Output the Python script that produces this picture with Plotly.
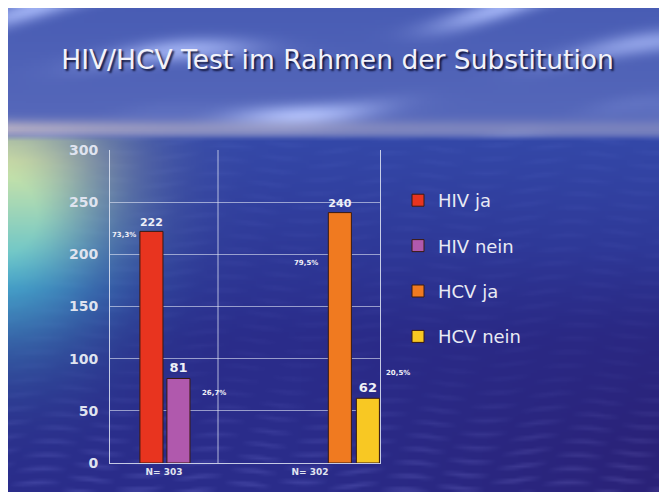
import base64, struct, zlib
import numpy as np
import plotly.graph_objects as go

# ---------------- data ----------------
categories = ["N= 303", "N= 302"]
group_totals = [303, 302]
series_names = ["HIV ja", "HIV nein", "HCV ja", "HCV nein"]
hiv_ja = [222, None]
hiv_nein = [81, None]
hcv_ja = [None, 240]
hcv_nein = [None, 62]
y_ticks = [0, 50, 100, 150, 200, 250, 300]

series_values = [hiv_ja, hiv_nein, hcv_ja, hcv_nein]

# ---------------- style ----------------
colors = ["#e8341f", "#b059ad", "#f07a20", "#f8c823"]
offsets = [-0.165, 0.02, 0.126, 0.318]
bar_w = 0.158
pct_style = [
    dict(xside="left", yshift=-4, xshift=-2),
    dict(xside="right", yshift=-15, xshift=10),
    dict(xside="left", yshift=-50, xshift=-8),
    dict(xside="right", yshift=25, xshift=5),
]

# the page body has an 8px margin, so the figure is drawn 8px in from the top-left
W_FIG, H_FIG = 659, 489
ML, MR, MT, MB = 102, 287, 142, 34
PW, PH = W_FIG - ML - MR, H_FIG - MT - MB


# ---------------- background image (decorative) ----------------
def make_bg():
    H, W = 180, 240
    v = np.linspace(8, 492, H)[:, None] * np.ones((1, W))
    u = np.ones((H, 1)) * np.linspace(8, 667, W)[None, :]

    def col(c):
        return np.array(c, dtype=float)[None, None, :]

    # sky
    t = np.clip(v / 120.0, 0, 1)[..., None]
    sky = col([72, 92, 180]) * (1 - t) + col([86, 104, 186]) * t
    ph = v + 0.16 * u
    streak = (0.5 + 0.5 * np.sin(ph / 11.0 + 1.2 * np.sin(u / 80.0))) ** 3
    patch = (0.5 + 0.5 * np.sin(u / 75.0 - v / 30.0 + 1.3)) * (0.6 + 0.4 * np.sin(u / 37.0 + v / 19.0))
    sky = sky + (85 * streak * np.clip(patch, 0, 1))[..., None] * np.array([1.0, 0.97, 0.72])[None, None, :]
    hz = np.exp(-((v - 128) / 9.0) ** 2) * (0.25 + 0.45 * np.exp(-u / 200.0))
    sky = sky * (1 - hz[..., None]) + col([215, 200, 200]) * hz[..., None]

    # ocean
    to = np.clip((v - 140) / 200.0, 0, 1)[..., None]
    ocean = col([52, 72, 168]) * (1 - to) + col([42, 44, 138]) * to
    rs = np.clip((u - 300) / 367.0, 0, 1)[..., None] * np.clip((v - 250) / 200.0, 0, 1)[..., None]
    ocean = ocean * (1 - rs) + col([42, 34, 120]) * rs
    wave = np.clip(np.sin(v / 2.2 + np.sin(u / 28.0) * 1.6) * np.sin(u / 17.0 + v / 40.0), 0, 1)
    wamp = 5 + 16 * np.clip((v - 380) / 110.0, 0, 1)
    ocean = ocean + (wamp * wave)[..., None]
    d2 = (u / 115.0) ** 2 + ((v - 215) / 125.0) ** 2
    g = np.clip(1.1 * np.exp(-d2), 0, 1)[..., None]
    tg = np.clip((v - 160) / 130.0, 0, 1)[..., None]
    gc = col([212, 230, 165]) * (1 - tg) + col([75, 188, 214]) * tg
    ocean = ocean * (1 - g) + gc * g

    m = np.clip((v - 134) / 6.0, 0, 1)[..., None]
    img = sky * (1 - m) + ocean * m
    img = np.clip(img, 0, 255).astype(np.uint8)

    raw = b"".join(b"\x00" + img[r].tobytes() for r in range(H))

    def chunk(tag, data):
        c = struct.pack(">I", len(data)) + tag + data
        return c + struct.pack(">I", zlib.crc32(tag + data) & 0xFFFFFFFF)

    png = b"\x89PNG\r\n\x1a\n" + chunk(b"IHDR", struct.pack(">IIBBBBB", W, H, 8, 2, 0, 0, 0)) \
        + chunk(b"IDAT", zlib.compress(raw, 9)) + chunk(b"IEND", b"")
    return "data:image/png;base64," + base64.b64encode(png).decode()


fig = go.Figure()
for name, vals, c, off in zip(series_names, series_values, colors, offsets):
    fig.add_trace(go.Bar(
        name=name, x=categories, y=vals, width=bar_w, offset=off,
        marker=dict(color=c, line=dict(color="#3a1a10", width=1)),
        text=[("" if v is None else str(v)) for v in vals],
        textposition="outside", cliponaxis=False,
        textfont=dict(family="DejaVu Sans", size=13, color="#eef0f8", weight="bold"),
        legendgroup=name,
    ))

for i, (vals, st) in enumerate(zip(series_values, pct_style)):
    for j, v in enumerate(vals):
        if v is None:
            continue
        pct = f"{v / group_totals[j] * 100:.1f}%".replace(".", ",")
        xedge = j + offsets[i] + (0 if st["xside"] == "left" else bar_w)
        fig.add_annotation(
            x=xedge, y=v, xref="x", yref="y", text=pct, showarrow=False,
            xanchor="right" if st["xside"] == "left" else "left", yanchor="middle",
            xshift=st["xshift"], yshift=st["yshift"],
            font=dict(family="DejaVu Sans", size=7, color="#f0f0f8", weight="bold"),
        )

fig.add_shape(type="line", xref="x", yref="paper", x0=0.37, x1=0.37, y0=0, y1=1,
              line=dict(color="rgba(225,230,245,0.75)", width=1), layer="below")

fig.add_layout_image(dict(
    source=make_bg(), xref="paper", yref="paper",
    x=-ML / PW, y=1 + MT / PH,
    sizex=W_FIG / PW, sizey=(H_FIG - 5) / PH,
    sizing="stretch", xanchor="left", yanchor="top", layer="below",
))

fig.update_layout(
    width=W_FIG, height=H_FIG,
    margin=dict(l=ML, r=MR, t=MT, b=MB),
    paper_bgcolor="white", plot_bgcolor="rgba(0,0,0,0)",
    barmode="overlay",
    showlegend=True,
    title=dict(
        text="HIV/HCV Test im Rahmen der Substitution",
        x=0.5, xanchor="center", y=1 - 52 / H_FIG, yanchor="middle", yref="container",
        font=dict(family="DejaVu Sans", size=26.5, color="#f2f2fa",
                  shadow="2px 2px 2px rgba(0,0,30,0.8)"),
    ),
    legend=dict(
        x=(390 - ML) / PW, y=(455 - 174) / PH, xanchor="left", yanchor="top",
        bgcolor="rgba(0,0,0,0)", tracegroupgap=19,
        font=dict(family="DejaVu Sans", size=18, color="#e8eaf4"),
        itemwidth=30,
    ),
    xaxis=dict(
        type="category", range=[-0.37, 1.48], showgrid=False,
        showline=True, linecolor="rgba(225,230,245,0.85)", linewidth=1,
        ticks="outside", ticklen=0,
        tickfont=dict(family="DejaVu Sans", size=9, color="#e0e4f0", weight="bold"),
        fixedrange=True,
    ),
    yaxis=dict(
        range=[0, 300], tickvals=y_ticks, showgrid=True,
        gridcolor="rgba(225,230,245,0.6)", gridwidth=1,
        showline=True, linecolor="rgba(225,230,245,0.85)", linewidth=1, mirror=True,
        zeroline=False, ticks="", ticklabelstandoff=8,
        tickfont=dict(family="DejaVu Sans", size=14, color="#dfe3ef", weight="bold"),
        fixedrange=True,
    ),
)

fig.write_html("out.html")
